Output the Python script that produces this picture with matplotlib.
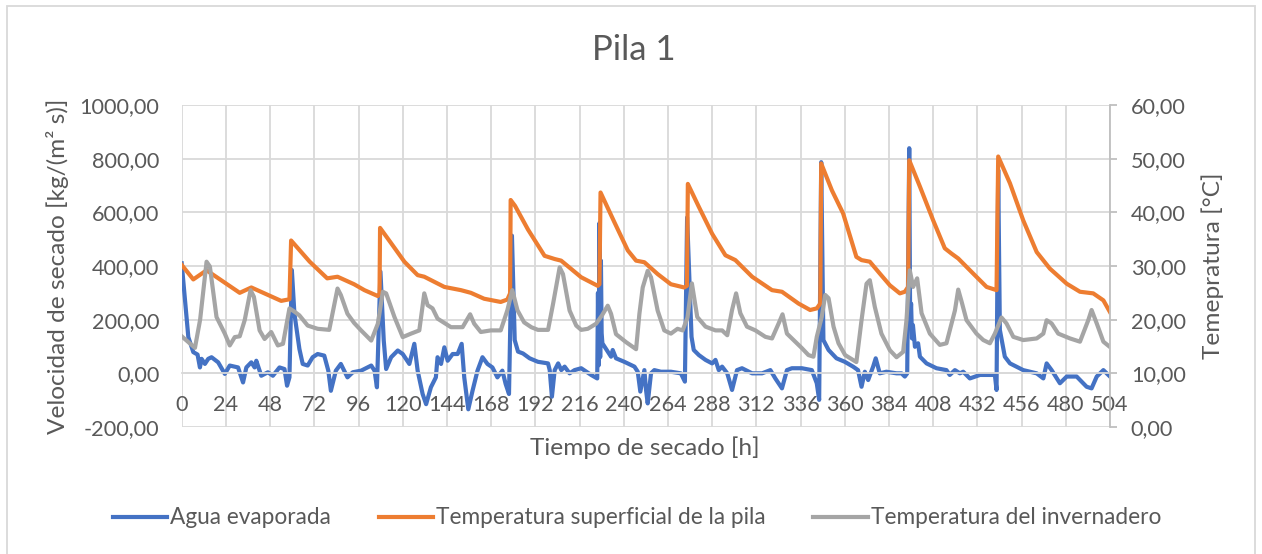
"""
Pila 1: velocidad de secado y temperaturas durante el secado.
"""
import matplotlib
matplotlib.use("Agg")
import matplotlib.pyplot as plt
from matplotlib.ticker import FuncFormatter, MultipleLocator
from matplotlib.patches import Rectangle

plt.rcParams['font.family'] = ['Lato', 'DejaVu Sans']

# Agua evaporada [kg/(m2 s)] - eje izquierdo
horas_agua = [0, 1.8, 3.6, 6.3, 8.6, 9.9, 10.8, 12.6, 14.4, 16.2, 19.8, 23.4, 26.1, 30.6, 33.3,
              35.1, 37.8, 39.6, 40.5, 43.2, 46.8, 49.5, 53.1, 55.8, 57.2, 58.5, 59.8, 61.2, 63.9,
              65.7, 68.4, 71.1, 73.8, 77.4, 79.6, 81, 83.7, 86.4, 90, 92.9, 97.4, 102.9, 104.7,
              106, 107.9, 109.7, 111, 113.7, 117.3, 120, 123.6, 126.3, 128.1, 130.8, 132.7,
              135.3, 138, 138.9, 140.8, 142.6, 144.4, 147.1, 149.8, 152, 153.4, 155.6, 157.9,
              160.6, 163.3, 166, 168.7, 171.4, 174.1, 175.9, 177.7, 179.3, 180.8, 182.6, 185.3,
              188.9, 193.4, 198.9, 199.8, 201, 202.5, 204.4, 206.1, 207.9, 210.6, 213.3, 216.9,
              222.3, 225.6, 226.0, 226.4, 226.8, 227.2, 227.6, 228.0, 228.4, 231.3, 233.1, 234,
              235.8, 240.3, 245.8, 247.6, 249, 251.2, 252.1, 253, 254.8, 256.6, 260.2, 265.6,
              271, 273.2, 274.4, 276.8, 278, 280.8, 284.4, 288, 289.8, 291.6, 293.4, 296.2,
              298.8, 301.5, 304.2, 309.7, 315.1, 319.6, 322.3, 325.9, 328.6, 331.3, 336.7,
              342.1, 344.8, 346.1, 347.2, 348.4, 351.2, 355.5, 360, 364.5, 367.2, 369.1, 370.9,
              372.7, 375.4, 376.8, 379, 382.6, 388.1, 390.8, 392.6, 393.9, 395, 395.5, 396,
              396.5, 397, 398.1, 399.8, 400.8, 404.4, 409.8, 415.2, 417, 419.8, 422.5, 424.3,
              427.9, 433.4, 441.5, 442.4, 443.3, 444.2, 446.9, 449.7, 456.9, 464.2, 467.8,
              469.6, 472.3, 476.8, 480.5, 485.9, 491.3, 494, 496.8, 500.4, 504]
agua = [410, 272, 135, 79, 70, 22, 54, 35, 54, 60, 41, -2, 29, 22, -34,
        22, 41, 22, 47, -9, 4, -9, 22, 16, -46, -15, 385, 222, 91,
        35, 29, 60, 72, 66, 10, -65, 10, 35, -15, 4, 10, 29, 10,
        -52, 379, 122, 16, 60, 85, 72, 35, 110, 10, -77, -115,
        -52, -15, 60, 35, 97, 47, 72, 72, 110, -15, -134, -65,
        10, 60, 35, 22, -15, 10, -40, -77, 513, 124, 81, 74,
        56, 43, 37, 12, -87, 12, 37, 12, 25, 0, 12, 19,
        -6, -19, 300, 30, 560, 60, 420, 150, 112, 81, 62, 87,
        56, 43, 25, 6, -68, 12, -62, -112, 0, 12, 6, 6,
        0, -31, 581, 136, 87, 68, 50, 37, 50, 12, 25, 0,
        -62, 12, 19, 0, 0, 12, -19, -56, 12, 19, 19,
        12, -37, -99, 787, 124, 87, 56, 43, 25, 12, -50, 6,
        -25, 25, 56, 0, 6, 0, 0, -12, 0, 839, 174, 260,
        130, 180, 99, 112, 62, 37, 19, 12, -6, 12, 0, 6,
        -19, -6, -6, -62, 758, 162, 62, 37, 12, 0, -19,
        37, 12, -37, -12, -12, -50, -56, -12, 12, -12]

# Temperatura superficial de la pila [°C] - eje derecho
horas_sup = [0, 6.3, 13.5, 31.5, 37.8, 54, 58.5, 59.4, 69.5, 79, 84.6, 93.6, 99.2, 106.5,
             107.4, 107.7, 113.7, 120.9, 128.1, 131.7, 142.6, 151.6, 157, 164.2, 173.2, 176.8,
             178.3, 178.6, 181, 188, 197, 202.5, 206, 216.9, 225.9, 226.8, 227.4, 235, 242.2,
             246.7, 251.2, 258.4, 265.6, 272.8, 274.3, 274.8, 280.8, 288, 295.2, 300.6, 309.7,
             320.5, 325.9, 334.9, 341.2, 344.8, 346.7, 347.2, 353, 359.1, 366.3, 369.1, 373.6,
             379, 384.5, 389.9, 392.6, 394.4, 395, 400.8, 408, 414.3, 418, 421.6, 429.7, 437,
             442.4, 443.3, 449.7, 456.9, 464.2, 471.4, 480.5, 487.7, 494.9, 500.4, 504]
temp_sup = [30.2, 27.5, 29.2, 25, 26, 23.5, 23.8, 34.75, 30.8, 27.7, 28, 26.6, 25.5, 24.4,
            24.9, 37.1, 34.25, 30.8, 28.3, 28, 26.1, 25.5, 25, 23.9, 23.3, 23.75,
            24.9, 42.3, 41.2, 36.8, 31.9, 31.3, 31, 27.9, 26.3, 26.6, 43.7, 38.1, 32.9,
            31, 30.7, 28.5, 26.6, 26, 26.3, 45.3, 41, 36, 32, 31.1, 28,
            25.5, 25.2, 23, 21.8, 22.1, 23, 49.1, 44.1, 39.8, 31.7, 31.1, 30.8,
            28.6, 26.4, 24.9, 25.2, 26.1, 49.7, 44.8, 38.5, 33.3, 32.3, 31.4, 28.6, 26.1,
            25.5, 50.4, 45.4, 38.5, 32.6, 29.5, 26.7, 25.2, 24.9, 23.6, 21.4]

# Temperatura del invernadero [°C] - eje derecho
horas_inv = [0, 7.2, 10, 13.5, 15.3, 18.9, 23.4, 26.1, 28.8, 31.5, 34.2, 37.4, 39.2, 42.3, 45,
             48.6, 52.2, 55, 58.5, 61.2, 63.9, 68.4, 73.8, 80.1, 84.6, 86.4, 90, 93.6, 97.4,
             102.9, 106.5, 109.2, 111, 115.5, 120, 124.5, 129, 131.7, 133.5, 136.2, 138.9,
             146.2, 152.5, 156.6, 158.8, 162.4, 167.8, 173.2, 176.8, 179.5, 182.3, 185.9,
             189.8, 193.4, 198.9, 201.6, 205.2, 207, 210.6, 214.2, 216.9, 220.5, 225, 228.1,
             231.3, 233.1, 235.8, 241.3, 246.7, 248.5, 250.3, 253, 254.8, 258.4, 262, 265.6,
             269.2, 272, 274.6, 277, 279.9, 284.4, 289.8, 293.4, 296.2, 298.8, 301, 303.3,
             306.9, 311.5, 316.9, 320.5, 324.1, 326.2, 328.6, 332.2, 336.7, 340.3, 343, 344.8,
             347.5, 349.4, 351.2, 353.9, 356.6, 360.2, 366.3, 369.1, 371.8, 373.6, 376.3,
             379.9, 384.5, 388.1, 391.7, 393.5, 395.3, 397.1, 399.3, 401.7, 406.2, 411.6,
             415.2, 419.8, 421.6, 423.4, 426.1, 431.5, 435.2, 438.8, 441.5, 445.1, 447.8,
             451.5, 456.9, 464.2, 467.8, 469.6, 472.3, 475.9, 482.3, 487.7, 492.2, 494,
             496.8, 500.4, 504]
temp_inv = [16.9, 14.75, 20, 30.8, 29.9, 20.5, 17.4, 15.2, 16.75, 16.9, 19.9, 25.5, 24.25, 18, 16.4,
            17.7, 15.2, 15.5, 22.1, 21.5, 20.8, 18.9, 18.3, 18.1, 25.8, 24.6, 21.1, 19.4, 18,
            16.1, 19.25, 25.2, 24.9, 20.5, 16.75, 17.4, 18, 24.9, 22.7, 22.1, 20.2,
            18.6, 18.6, 21, 19.25, 17.7, 18, 18, 21.75, 25.5, 21.75, 19.5,
            18.6, 18.1, 18.1, 22.9, 29.75, 28.5, 21.7, 18.9, 18.1, 18.3, 19.25, 20.75,
            22.6, 21.1, 17.3, 15.8, 14.5, 21.1, 26, 29.1, 27.9, 21.7, 18, 17.4,
            18.3, 18, 20.4, 26.75, 20.5, 18.7, 18, 18, 17.1, 21.8, 24.9, 21.2,
            18.7, 18, 16.8, 16.5, 19.3, 21, 17.4, 16.2, 14.7, 13.4, 13.1, 16.8,
            20.5, 24.6, 24, 18.7, 15.6, 13.4, 12.1, 19.9, 26.7, 27.35, 22.4,
            17.4, 14.3, 13, 14, 19.9, 29.2, 26.1, 27.7, 21.2, 17.4, 15.3,
            15.6, 21.7, 25.6, 23.4, 19.9, 17.4, 16.2, 15.6, 17.4, 20.4, 19.3,
            16.8, 16.2, 16.5, 17.4, 19.9, 19.3, 17.4, 16.5, 15.9, 19.9, 21.8,
            19.3, 15.9, 14.9]

x_ticks = list(range(0, 505, 24))

AZUL = '#4472C4'
NARANJA = '#ED7D31'
GRIS = '#A5A5A5'
TEXTO = '#595959'
REJILLA = '#D9D9D9'


def coma(v, pos=None):
    return f"{v:.2f}".replace('.', ',')


fig = plt.figure(figsize=(12.62, 5.54), dpi=100)
ax = fig.add_axes([181.7 / 1262, 1 - 427 / 554, (1110 - 181.7) / 1262, (427 - 105) / 554])
ax2 = ax.twinx()

# Series
l1, = ax.plot(horas_agua, agua, color=AZUL, lw=3, solid_joinstyle='round',
              label='Agua evaporada')
l2, = ax2.plot(horas_sup, temp_sup, color=NARANJA, lw=3, solid_joinstyle='round',
               label='Temperatura superficial de la pila')
l3, = ax2.plot(horas_inv, temp_inv, color=GRIS, lw=3, solid_joinstyle='round',
               label='Temperatura del invernadero')

# Eje izquierdo
ax.set_xlim(0, 504)
ax.set_ylim(-200, 1000)
ax.set_xticks(x_ticks)
ax.yaxis.set_major_locator(MultipleLocator(200))
ax.yaxis.set_major_formatter(FuncFormatter(coma))
ax.grid(True, color=REJILLA, lw=1.3)
ax.set_axisbelow(True)
for s in ['top', 'right', 'left']:
    ax.spines[s].set_visible(False)
ax.spines['bottom'].set_position(('data', 0))
ax.spines['bottom'].set_color(REJILLA)
ax.spines['bottom'].set_linewidth(1.3)
ax.tick_params(axis='x', length=0, pad=15.5, labelsize=15.6, labelcolor=TEXTO)
ax.tick_params(axis='y', length=0, pad=16, labelsize=15.6, labelcolor=TEXTO)

# Eje derecho
ax2.set_ylim(0, 60)
ax2.yaxis.set_major_locator(MultipleLocator(10))
ax2.yaxis.set_major_formatter(FuncFormatter(coma))
for s in ['top', 'left', 'bottom']:
    ax2.spines[s].set_visible(False)
ax2.spines['right'].set_color('#BFBFBF')
ax2.spines['right'].set_linewidth(1.3)
ax2.tick_params(axis='y', length=5, width=1.3, color='#BFBFBF', pad=10,
                labelsize=15.6, labelcolor=TEXTO)

# Textos
fig.text(634 / 1262, 1 - 50 / 554, 'Pila 1', fontsize=25, color=TEXTO, ha='center', va='center')
fig.text(645 / 1262, 1 - 448 / 554, 'Tiempo de secado [h]', fontsize=17.6, color=TEXTO,
         ha='center', va='center')
fig.text(58 / 1262, 1 - 266 / 554, 'Velocidad de secado [kg/(m² s)]', fontsize=17.6, color=TEXTO,
         ha='center', va='center', rotation=90)
fig.text(1213 / 1262, 1 - 266 / 554, 'Temepratura [°C]', fontsize=17.6, color=TEXTO,
         ha='center', va='center', rotation=90)

leg = fig.legend([l1, l2, l3], [l.get_label() for l in (l1, l2, l3)], ncol=3, loc='center',
                 bbox_to_anchor=(637 / 1262, 1 - 518 / 554), frameon=False, fontsize=16.3,
                 handlelength=2.4, handletextpad=0.13, columnspacing=2.1)
for t in leg.get_texts():
    t.set_color(TEXTO)

# Borde del gráfico
fig.patches.append(Rectangle((7 / 1262, -0.05), (1255 - 7) / 1262, 1.05 - 6 / 554,
                             transform=fig.transFigure, fill=False, edgecolor=REJILLA, lw=1.3))

fig.savefig('out.png', dpi=100)
